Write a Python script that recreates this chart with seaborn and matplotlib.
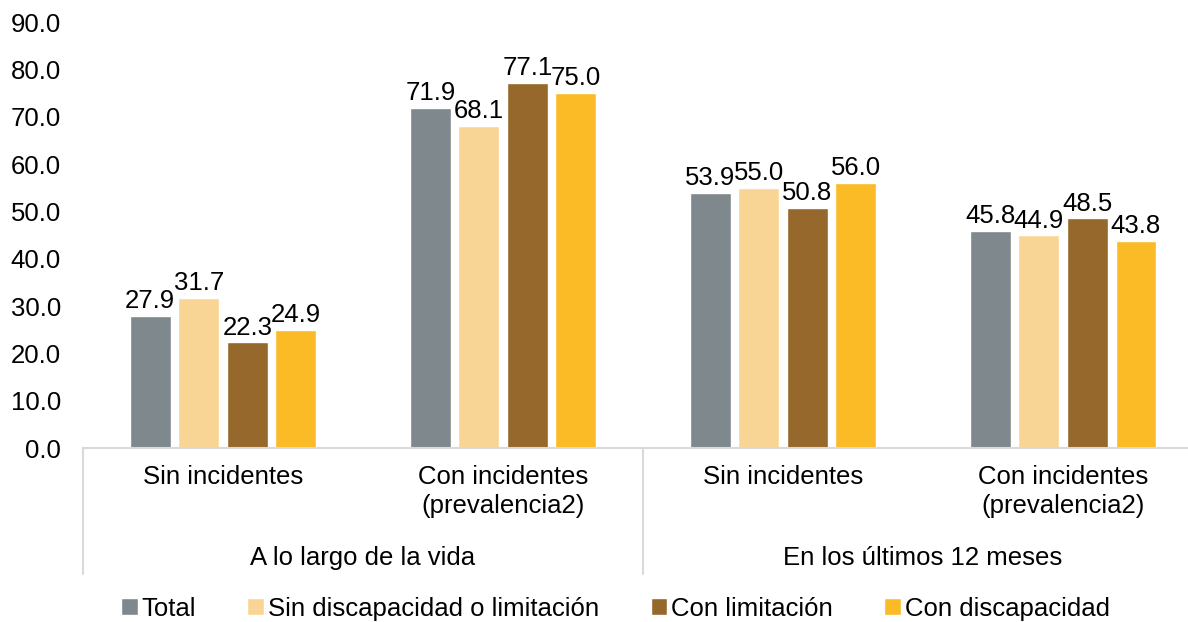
import matplotlib
matplotlib.use("Agg")
import matplotlib.pyplot as plt
import seaborn as sns
import pandas as pd

# data
category_keys = ["vida_sin", "vida_con", "12m_sin", "12m_con"]
category_labels = [
    "Sin incidentes",
    "Con incidentes\n(prevalencia2)",
    "Sin incidentes",
    "Con incidentes\n(prevalencia2)",
]
groups = ["A lo largo de la vida", "En los últimos 12 meses"]
series = ["Total", "Sin discapacidad o limitación", "Con limitación", "Con discapacidad"]
total = [27.9, 71.9, 53.9, 45.8]
sin_discapacidad = [31.7, 68.1, 55.0, 44.9]
con_limitacion = [22.3, 77.1, 50.8, 48.5]
con_discapacidad = [24.9, 75.0, 56.0, 43.8]
colors = ["#7f888d", "#f9d595", "#96682b", "#fbbb26"]

values = [total, sin_discapacidad, con_limitacion, con_discapacidad]
df = pd.DataFrame(
    [
        {"categoria": cat, "serie": s, "valor": v}
        for s, vals in zip(series, values)
        for cat, v in zip(category_keys, vals)
    ]
)

FS = 18.5

sns.set_style("white")
plt.rcParams["font.family"] = ["Liberation Sans", "DejaVu Sans"]
plt.rcParams["text.color"] = "black"
plt.rcParams["xtick.color"] = "black"
plt.rcParams["ytick.color"] = "black"

fig = plt.figure(figsize=(11.88, 6.22), dpi=100)
ax = fig.add_axes([83 / 1188, 1 - 448 / 622, 1105 / 1188, (448 - 22) / 622])

sns.barplot(
    data=df,
    x="categoria",
    y="valor",
    hue="serie",
    order=category_keys,
    hue_order=series,
    palette=colors,
    width=0.693,
    gap=0.16,
    saturation=1,
    ax=ax,
    legend=True,
)

for cont in ax.containers:
    ax.bar_label(cont, fmt="%.1f", padding=2, fontsize=FS, color="black")

ax.set_ylim(0, 90)
ax.set_xlim(-0.5, 3.446)
ax.set_yticks(range(0, 91, 10))
ax.set_yticklabels([f"{v:.1f}" for v in range(0, 91, 10)], fontsize=FS)
ax.set_xticks(range(len(category_keys)))
ax.set_xticklabels(category_labels, fontsize=FS, linespacing=1.3)
ax.tick_params(axis="y", length=0, pad=16)
ax.tick_params(axis="x", length=0, pad=12)
ax.set_xlabel("")
ax.set_ylabel("")

for side in ["top", "right", "left"]:
    ax.spines[side].set_visible(False)
ax.spines["bottom"].set_color("#d9d9d9")
ax.spines["bottom"].set_linewidth(1.5)

# group separators and group labels
trans = ax.get_xaxis_transform()
for xsep in [-0.5, 1.5, 3.5]:
    ax.plot([xsep, xsep], [0, -0.295], transform=trans, color="#d9d9d9",
            lw=1.5, clip_on=False)
for i, g in enumerate(groups):
    ax.text(0.5 + 2 * i, -0.258, g, transform=trans, ha="center", va="center",
            fontsize=FS)

handles, labels = ax.get_legend_handles_labels()
ax.get_legend().remove()
fig.legend(
    handles,
    labels,
    loc="center",
    bbox_to_anchor=(0.518, 0.021),
    ncol=4,
    frameon=False,
    fontsize=FS,
    handlelength=0.65,
    handleheight=0.65,
    handletextpad=0.15,
    columnspacing=2.0,
    borderpad=0,
)

fig.savefig("out.png", dpi=100)
